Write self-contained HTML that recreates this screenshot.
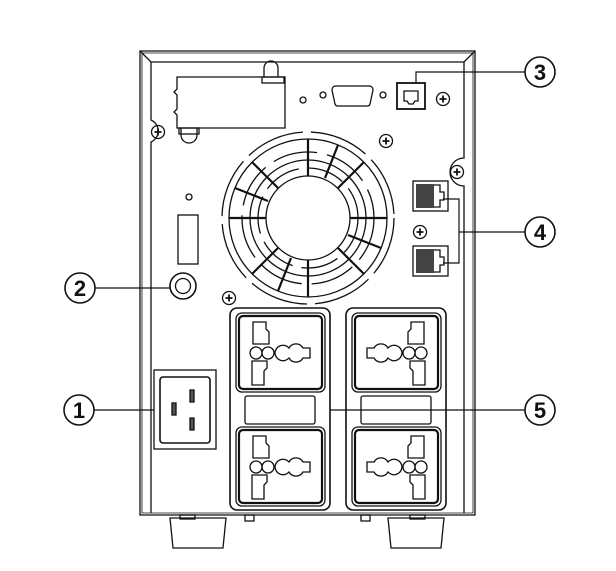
<!DOCTYPE html>
<html><head><style>
html,body{margin:0;padding:0;background:#fff;width:616px;height:571px;overflow:hidden}
svg{display:block}
text{font-family:"Liberation Sans",sans-serif;font-weight:bold;font-size:22px}
</style></head><body>
<svg width="616" height="571" viewBox="0 0 616 571" xmlns="http://www.w3.org/2000/svg" fill="none" stroke="#111" stroke-width="1.3">
<defs>
<g id="scr"><circle r="6.5"/><path d="M-3.5 0H3.5M0 -3.5V3.5" stroke-width="1.8"/></g>
<g id="sock">
<rect x="0" y="0" width="89" height="79" rx="6"/>
<rect x="3" y="3" width="83" height="73" rx="4" stroke-width="2.2"/>
<path d="M17 9h13v7l3 3v12h-16z"/>
<path d="M16 48h15v7l-3 3v14h-12z"/>
<circle cx="20" cy="40" r="6"/><circle cx="32" cy="40" r="6"/>
<path d="M39 40a8 8 0 0 1 14 -5a8 8 0 0 1 14 0h7v10h-7a8 8 0 0 1 -14 0a8 8 0 0 1 -14 -5z"/>
</g>
<g id="rj"><rect x="0" y="0" width="35" height="30"/><rect x="3" y="3" width="18" height="24" fill="#444" stroke="none"/><path d="M21 4h6v7h4v8h-4v7h-6"/></g>
</defs>
<path d="M140 51H475V515H140Z"/>
<path d="M142 53H473V513H142Z" stroke-width="0.8"/>
<path d="M140 51L151 62H464L475 51" />
<path d="M151 62V120a12 12 0 0 1 0 22V513"/>
<path d="M464 62V158a13 13 0 0 0 0 28V513"/>
<path d="M177 77H285V128H177V115l-3-3 3-3V95l-3-3 3-3Z"/>
<path d="M264 77V68a7 7 0 0 1 14 0V77" /><rect x="262" y="77" width="22" height="6"/>
<path d="M181 128v7a8 8 0 0 0 16 0v-7"/><rect x="179" y="128" width="20" height="6"/>
<circle cx="303" cy="100" r="3"/><circle cx="323" cy="95" r="3"/><circle cx="383" cy="95" r="3"/>
<path d="M335 86H370a4 4 0 0 1 3 4l-3 14a3 3 0 0 1-3 2H338a3 3 0 0 1-3-2l-3-14a4 4 0 0 1 3-4Z"/>
<rect x="397" y="83" width="28" height="26" stroke-width="1.8"/>
<path d="M404 91h14v10h-3l-2 3h-4l-2-3h-3z"/>
<use href="#scr" x="443" y="99"/>
<use href="#scr" x="158" y="132"/>
<use href="#scr" x="386" y="141"/>
<use href="#scr" x="457" y="172"/>
<use href="#scr" x="420" y="232"/>
<use href="#scr" x="229" y="298"/>
<g transform="translate(308,218)">
<circle r="86" stroke-dasharray="60 8"/>
<circle r="79"/>
<circle r="66" stroke-dasharray="45 10"/>
<circle r="58"/>
<circle r="50" stroke-dasharray="38 9"/>
<circle r="42"/>
<g stroke-width="2.2">
<path d="M0 -79V-42M0 79V42M-79 0H-42M79 0H42"/>
<path d="M-56 -56L-30 -30M56 56L30 30M56 -56L30 -30M-56 56L-30 30"/>
<path d="M-73 -30L-40 -17M73 30L40 17M30 -73L17 -40M-30 73L-17 40"/>
</g>
</g>
<circle cx="189" cy="197" r="3"/>
<rect x="178" y="215" width="20" height="49"/>
<circle cx="183" cy="286" r="13" stroke-width="1.6"/><circle cx="183" cy="286" r="7.5"/>
<use href="#rj" x="413" y="181"/>
<use href="#rj" x="413" y="246"/>
<rect x="154" y="370" width="62" height="79"/>
<rect x="160" y="377" width="50" height="66" rx="3" stroke-width="1.6"/>
<rect x="172" y="403" width="4" height="12" fill="#555"/>
<rect x="190" y="390" width="4" height="12" fill="#555"/>
<rect x="190" y="418" width="4" height="12" fill="#555"/>
<rect x="230" y="308" width="100" height="202" rx="7" stroke-width="1.6"/>
<rect x="346" y="308" width="100" height="202" rx="7" stroke-width="1.6"/>
<use href="#sock" x="236" y="313"/>
<use href="#sock" x="236" y="427"/>
<use href="#sock" transform="translate(441,313) scale(-1,1)"/>
<use href="#sock" transform="translate(441,427) scale(-1,1)"/>
<rect x="245" y="396" width="70" height="28" rx="2"/>
<rect x="361" y="396" width="70" height="28" rx="2"/>
<path d="M170 518h56l-3 30h-50z"/><path d="M388 518h56l-3 30h-50z"/>
<rect x="180" y="515" width="15" height="4"/><rect x="410" y="515" width="15" height="4"/>
<rect x="245" y="515" width="9" height="6"/><rect x="361" y="515" width="9" height="6"/>
<g stroke-width="1.2">
<path d="M416 83V72H525"/>
<path d="M443 199H459V263H443M459 232H525"/>
<path d="M95 288H170"/>
<path d="M94 410H154"/>
<path d="M330 410H525"/>
</g>
<g stroke-width="1.6">
<circle cx="540" cy="72" r="15"/><circle cx="540" cy="232" r="15"/>
<circle cx="80" cy="288" r="15"/><circle cx="79" cy="410" r="15"/><circle cx="540" cy="410" r="15"/>
</g>
<g fill="#111" stroke="none" text-anchor="middle">
<text x="540" y="80">3</text><text x="540" y="240">4</text>
<text x="80" y="296">2</text><text x="79" y="418">1</text><text x="540" y="418">5</text>
</g>
</svg>
</body></html>
